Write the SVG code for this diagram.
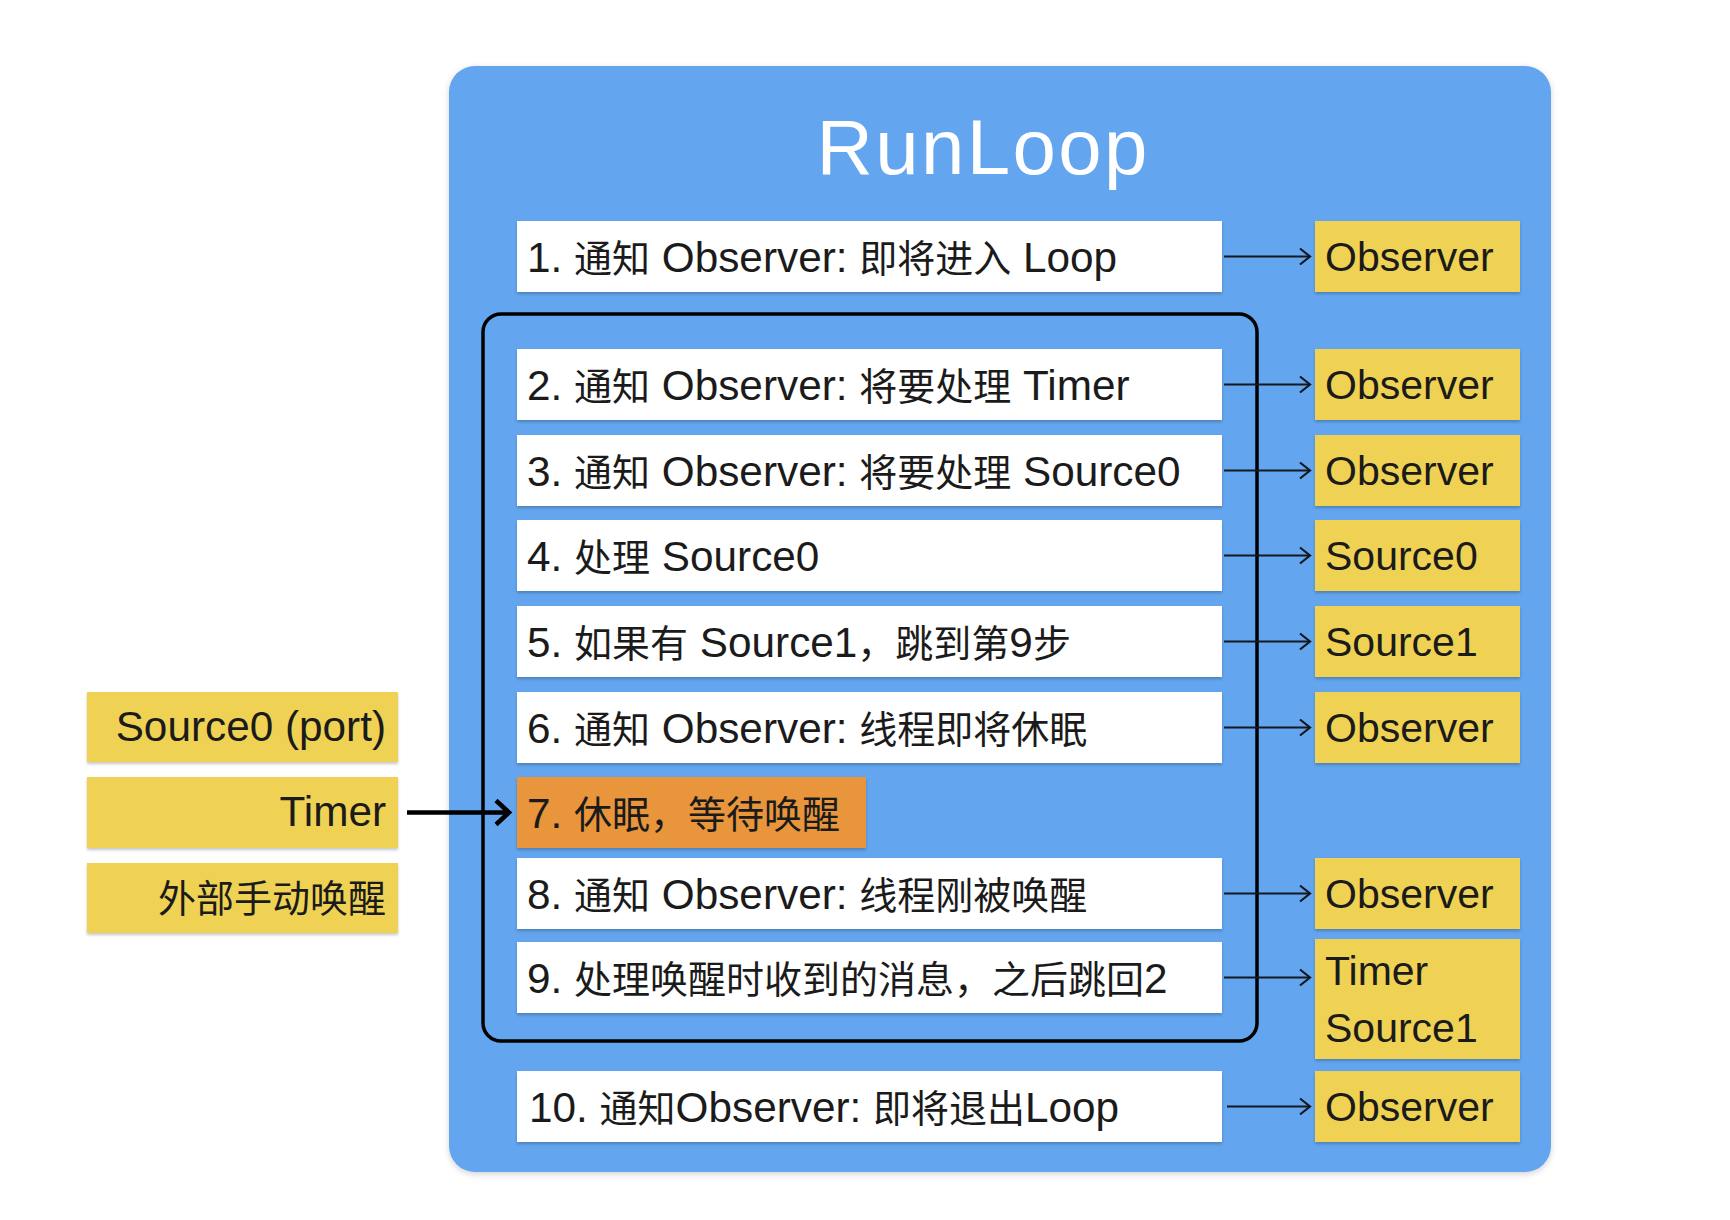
<svg xmlns="http://www.w3.org/2000/svg" width="1730" height="1220" viewBox="0 0 1730 1220">
<style>
.panel{fill:#64A5EE;}
.step{fill:#FFFFFF;}
.hot{fill:#E8953B;}
.tag{fill:#EFD253;}
.t{font-family:"Liberation Sans","Noto Sans CJK SC",sans-serif;font-size:42.3px;fill:#1b1b1b;}
.c{font-size:38px;}
.y{font-family:"Liberation Sans","Noto Sans CJK SC",sans-serif;font-size:41px;fill:#1b1b1b;}
.title{font-family:"Liberation Sans",sans-serif;font-size:78px;fill:#FFFFFF;}
.conn{stroke:#14181f;stroke-width:2.2;fill:none;}
.thick{stroke:#000;stroke-width:4.5;fill:none;}
</style>
<defs>
<filter id="sh" x="-5%" y="-10%" width="110%" height="130%">
<feDropShadow dx="0" dy="2" stdDeviation="1.5" flood-color="#000" flood-opacity="0.22"/>
</filter>
<filter id="shp" x="-5%" y="-5%" width="110%" height="110%">
<feDropShadow dx="0" dy="2" stdDeviation="3" flood-color="#000" flood-opacity="0.18"/>
</filter>
<marker id="ah" markerUnits="userSpaceOnUse" markerWidth="14" markerHeight="20" viewBox="0 0 14 20" refX="12" refY="10" orient="auto" overflow="visible">
<path d="M2,2 L12,10 L2,18" fill="none" stroke="#14181f" stroke-width="2.2"/>
</marker>
<marker id="ahb" markerUnits="userSpaceOnUse" markerWidth="20" markerHeight="30" viewBox="0 0 20 30" refX="16" refY="15" orient="auto" overflow="visible">
<path d="M3,3 L16,15 L3,27" fill="none" stroke="#000" stroke-width="4.5"/>
</marker>
</defs>

<rect width="1730" height="1220" fill="#FFFFFF"/>

<g id="runloop">
<rect class="panel" x="449" y="66" width="1102" height="1106" rx="26" filter="url(#shp)"/>
<text class="title" x="982" y="174" text-anchor="middle" textLength="331">RunLoop</text>
</g>

<g id="loop-frame">
<rect x="483" y="314" width="774" height="727" rx="18" fill="none" stroke="#000" stroke-width="3.5"/>
</g>

<g id="step1"><rect class="step" x="517" y="221" width="705" height="71" filter="url(#sh)"/>
<text class="t" x="527" y="272">1. <tspan class="c">通知</tspan> Observer: <tspan class="c">即将进入</tspan> Loop</text></g>
<g id="step2"><rect class="step" x="517" y="349" width="705" height="71" filter="url(#sh)"/>
<text class="t" x="527" y="400">2. <tspan class="c">通知</tspan> Observer: <tspan class="c">将要处理</tspan> Timer</text></g>
<g id="step3"><rect class="step" x="517" y="435" width="705" height="71" filter="url(#sh)"/>
<text class="t" x="527" y="486">3. <tspan class="c">通知</tspan> Observer: <tspan class="c">将要处理</tspan> Source0</text></g>
<g id="step4"><rect class="step" x="517" y="520" width="705" height="71" filter="url(#sh)"/>
<text class="t" x="527" y="571">4. <tspan class="c">处理</tspan> Source0</text></g>
<g id="step5"><rect class="step" x="517" y="606" width="705" height="71" filter="url(#sh)"/>
<text class="t" x="527" y="657">5. <tspan class="c">如果有</tspan> Source1<tspan class="c">，跳到第</tspan>9<tspan class="c">步</tspan></text></g>
<g id="step6"><rect class="step" x="517" y="692" width="705" height="71" filter="url(#sh)"/>
<text class="t" x="527" y="743">6. <tspan class="c">通知</tspan> Observer: <tspan class="c">线程即将休眠</tspan></text></g>
<g id="step7"><rect class="hot" x="517" y="777" width="349" height="71" filter="url(#sh)"/>
<text class="t" x="527" y="828">7. <tspan class="c">休眠，等待唤醒</tspan></text></g>
<g id="step8"><rect class="step" x="517" y="858" width="705" height="71" filter="url(#sh)"/>
<text class="t" x="527" y="909">8. <tspan class="c">通知</tspan> Observer: <tspan class="c">线程刚被唤醒</tspan></text></g>
<g id="step9"><rect class="step" x="517" y="942" width="705" height="71" filter="url(#sh)"/>
<text class="t" x="527" y="993">9. <tspan class="c">处理唤醒时收到的消息，之后跳回</tspan>2</text></g>
<g id="step10"><rect class="step" x="517" y="1071" width="705" height="71" filter="url(#sh)"/>
<text class="t" x="529" y="1122">10. <tspan class="c">通知</tspan>Observer: <tspan class="c">即将退出</tspan>Loop</text></g>

<g id="out1"><rect class="tag" x="1315" y="221" width="205" height="71" filter="url(#sh)"/><text class="y" x="1325" y="271">Observer</text></g>
<g id="out2"><rect class="tag" x="1315" y="349" width="205" height="71" filter="url(#sh)"/><text class="y" x="1325" y="399">Observer</text></g>
<g id="out3"><rect class="tag" x="1315" y="435" width="205" height="71" filter="url(#sh)"/><text class="y" x="1325" y="485">Observer</text></g>
<g id="out4"><rect class="tag" x="1315" y="520" width="205" height="71" filter="url(#sh)"/><text class="y" x="1325" y="570">Source0</text></g>
<g id="out5"><rect class="tag" x="1315" y="606" width="205" height="71" filter="url(#sh)"/><text class="y" x="1325" y="656">Source1</text></g>
<g id="out6"><rect class="tag" x="1315" y="692" width="205" height="71" filter="url(#sh)"/><text class="y" x="1325" y="742">Observer</text></g>
<g id="out8"><rect class="tag" x="1315" y="858" width="205" height="71" filter="url(#sh)"/><text class="y" x="1325" y="908">Observer</text></g>
<g id="out9"><rect class="tag" x="1315" y="939" width="205" height="120" filter="url(#sh)"/><text class="y" x="1325" y="985">Timer</text><text class="y" x="1325" y="1042">Source1</text></g>
<g id="out10"><rect class="tag" x="1315" y="1071" width="205" height="71" filter="url(#sh)"/><text class="y" x="1325" y="1121">Observer</text></g>

<g id="in-source0"><rect class="tag" x="87" y="692" width="311" height="70" filter="url(#sh)"/><text class="t" x="386" y="741" text-anchor="end">Source0 (port)</text></g>
<g id="in-timer"><rect class="tag" x="87" y="777" width="311" height="71" filter="url(#sh)"/><text class="t" x="386" y="826" text-anchor="end">Timer</text></g>
<g id="in-manual"><rect class="tag" x="87" y="863" width="311" height="70" filter="url(#sh)"/><text class="t" x="386" y="912" text-anchor="end"><tspan class="c">外部手动唤醒</tspan></text></g>

<g id="connectors">
<line class="conn" x1="1224" y1="256.5" x2="1310" y2="256.5" marker-end="url(#ah)"/>
<line class="conn" x1="1224" y1="384.5" x2="1310" y2="384.5" marker-end="url(#ah)"/>
<line class="conn" x1="1224" y1="470.5" x2="1310" y2="470.5" marker-end="url(#ah)"/>
<line class="conn" x1="1224" y1="555.5" x2="1310" y2="555.5" marker-end="url(#ah)"/>
<line class="conn" x1="1224" y1="641.5" x2="1310" y2="641.5" marker-end="url(#ah)"/>
<line class="conn" x1="1224" y1="727.5" x2="1310" y2="727.5" marker-end="url(#ah)"/>
<line class="conn" x1="1224" y1="893.5" x2="1310" y2="893.5" marker-end="url(#ah)"/>
<line class="conn" x1="1224" y1="977.5" x2="1310" y2="977.5" marker-end="url(#ah)"/>
<line class="conn" x1="1227" y1="1106.5" x2="1310" y2="1106.5" marker-end="url(#ah)"/>
<line class="thick" x1="407" y1="812.5" x2="509" y2="812.5" marker-end="url(#ahb)"/>
</g>
</svg>
